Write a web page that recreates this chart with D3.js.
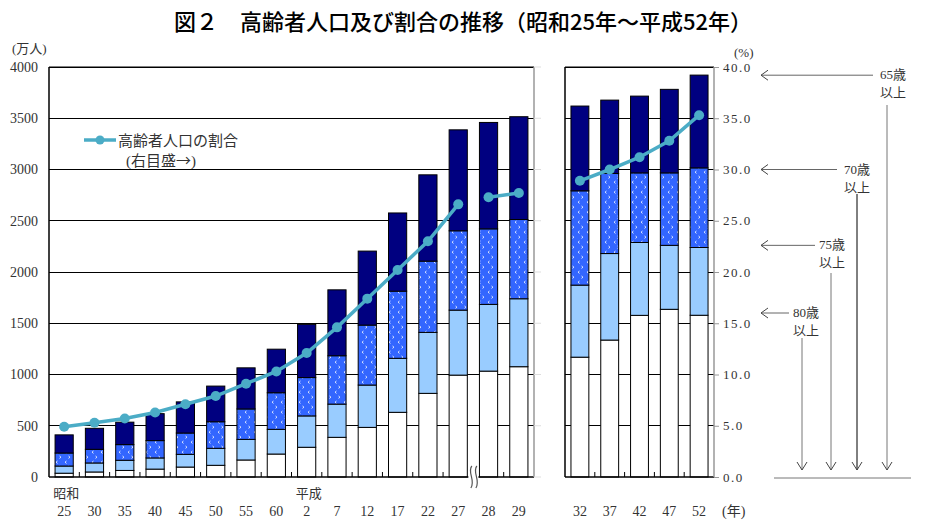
<!DOCTYPE html>
<html><head><meta charset="utf-8">
<script src="https://cdn.jsdelivr.net/npm/d3@7"></script>
<style>
html,body{margin:0;padding:0;background:#fff;}
svg{display:block;}
</style></head>
<body>
<script>
// ---- data ----
const yearsL = ["25","30","35","40","45","50","55","60","2","7","12","17","22","27","28","29"];
const age65L = [411,475,535,618,733,887,1065,1247,1489,1826,2204,2576,2948,3387,3459,3515];
const age70L = [234,270,316,355,429,539,664,822,970,1183,1482,1813,2106,2402,2421,2512];
const age75L = [107,137,163,186,221,280,367,465,596,711,897,1158,1411,1628,1684,1739];
const age80L = [37,49,64,77,97,114,166,224,290,387,484,631,816,994,1033,1076];
const ratioL = [4.9,5.3,5.7,6.3,7.1,7.9,9.1,10.3,12.1,14.6,17.4,20.2,23.0,26.6,27.3,27.7];

const yearsR = ["32","37","42","47","52"];
const age65R = [3619,3677,3716,3782,3921];
const age70R = [2792,2961,2967,2967,3016];
const age75R = [1872,2180,2288,2260,2239];
const age80R = [1169,1336,1577,1636,1578];
const ratioR = [28.9,30.0,31.2,32.8,35.3];

const ticksL = [0,500,1000,1500,2000,2500,3000,3500,4000];
const ticksR = [0,5,10,15,20,25,30,35,40];
const eraLabels = [["25","昭和"],["2","平成"]];
const ageNotes = [["65歳",39.2],["70歳",30.0],["75歳",22.6],["80歳",16.0]];

const title = "図２　高齢者人口及び割合の推移（昭和25年～平成52年）";

// ---- layout ----
const W = 928, H = 532;
const svg = d3.select("body").append("svg").attr("width",W).attr("height",H);
const serif = "'Liberation Serif','DejaVu Serif','Noto Sans CJK JP',serif";
const sans = "'Noto Sans CJK JP','Noto Sans',sans-serif";
const mixed = "'Liberation Serif','Noto Sans CJK JP',serif";

const yL = d3.scaleLinear().domain([0,4000]).range([477,67]);
const yR = d3.scaleLinear().domain([0,40]).range([477,67]);
const xL = d3.scaleBand().domain(yearsL).range([49,534]).paddingInner(0.4).paddingOuter(0.2);
const xR = d3.scaleBand().domain(yearsR).range([565,714]).paddingInner(0.4).paddingOuter(0.2);

const C = {navy:"#000080", blue:"#3366ff", light:"#99ccff", white:"#ffffff", line:"#4bacc6"};

// pattern
const defs = svg.append("defs");
const pat = defs.append("pattern").attr("id","dots").attr("patternUnits","userSpaceOnUse")
  .attr("width",9).attr("height",10);
pat.append("rect").attr("width",9).attr("height",10).attr("fill",C.blue);
pat.append("path").attr("d","M3.5,1 L2,2.2 L3.5,3.4").attr("fill","none").attr("stroke","#fff").attr("stroke-width",0.8);
pat.append("path").attr("d","M5.5,6 L7,7.2 L5.5,8.4").attr("fill","none").attr("stroke","#fff").attr("stroke-width",0.8);

// title
svg.append("text").attr("x",463).attr("y",30).attr("text-anchor","middle")
  .attr("font-family",sans).attr("font-size",22).attr("font-weight",500).attr("fill","#000").text(title);

function panel(x, years, a65, a70, a75, a80) {
  const x0 = x.range()[0], x1 = x.range()[1];
  const g = svg.append("g");
  g.selectAll("line.grid").data(ticksL.slice(1)).join("line")
    .attr("x1",x0).attr("x2",x1).attr("y1",d=>yL(d)).attr("y2",d=>yL(d))
    .attr("stroke","#000").attr("stroke-width",1).attr("shape-rendering","crispEdges");
  const rows = years.map((y,i)=>({y, segs:[
    [0,a80[i],C.white],[a80[i],a75[i],C.light],[a75[i],a70[i],"url(#dots)"],[a70[i],a65[i],C.navy]]}));
  const bg = g.selectAll("g.bar").data(rows).join("g");
  bg.selectAll("rect").data(d=>d.segs.map(s=>({y:d.y,s}))).join("rect")
    .attr("x",d=>x(d.y)).attr("width",x.bandwidth())
    .attr("y",d=>yL(d.s[1])).attr("height",d=>yL(d.s[0])-yL(d.s[1]))
    .attr("fill",d=>d.s[2]).attr("stroke","#000").attr("stroke-width",1);
  g.append("line").attr("x1",x0).attr("x2",x1).attr("y1",477).attr("y2",477).attr("stroke","#000").attr("stroke-width",1.5);
  const bounds = years.slice(1).map(y=>x(y) - x.step()*x.paddingInner()/2);
  g.selectAll("line.xt").data(bounds).join("line")
    .attr("x1",d=>d).attr("x2",d=>d).attr("y1",477).attr("y2",472).attr("stroke","#000");
  g.selectAll("text.xl").data(years).join("text")
    .attr("x",d=>x(d)+x.bandwidth()/2).attr("y",516).attr("text-anchor","middle")
    .attr("font-family",serif).attr("font-size",14).attr("fill","#333").text(d=>d);
  g.append("line").attr("x1",x0).attr("x2",x0).attr("y1",67).attr("y2",477).attr("stroke","#000").attr("stroke-width",1.5);
  g.append("line").attr("x1",x0).attr("x2",x1).attr("y1",67).attr("y2",67).attr("stroke","#000").attr("stroke-width",1);
  g.append("line").attr("x1",x1).attr("x2",x1).attr("y1",67).attr("y2",477).attr("stroke","#999").attr("stroke-width",1.5);
  return g;
}

panel(xL, yearsL, age65L, age70L, age75L, age80L);
panel(xR, yearsR, age65R, age70R, age75R, age80R);

// left y axis
const gl = svg.append("g").attr("transform","translate(49,0)")
  .call(d3.axisLeft(yL).tickValues(ticksL).tickSize(0).tickPadding(11).tickFormat(d3.format("d")));
gl.select(".domain").remove();
gl.selectAll("text").attr("font-family",serif).attr("font-size",14).attr("fill","#333");
svg.append("text").attr("x",12).attr("y",53).attr("font-family",mixed).attr("font-size",13).attr("fill","#333").text("(万人)");

// right y axis
const gr = svg.append("g").attr("transform","translate(714,0)")
  .call(d3.axisRight(yR).tickValues(ticksR).tickSize(5).tickPadding(4).tickFormat(d3.format(".1f")));
gr.select(".domain").remove();
gr.selectAll("line").attr("stroke","#999");
gr.selectAll("text").attr("font-family",serif).attr("font-size",13).attr("fill","#333").attr("letter-spacing","1.5px");
svg.append("text").attr("x",734).attr("y",57).attr("font-family",serif).attr("font-size",13).attr("fill","#333").text("(%)");
svg.append("text").attr("x",722).attr("y",516).attr("font-family",mixed).attr("font-size",14).attr("fill","#333").text("(年)");

svg.append("g").selectAll("line").data(ticksL).join("line")
  .attr("x1",534).attr("x2",541).attr("y1",d=>yL(d)).attr("y2",d=>yL(d)).attr("stroke","#ddd");

// era labels
svg.selectAll("text.era").data(eraLabels).join("text")
  .attr("x",d=>xL(d[0])+xL.bandwidth()/2-11).attr("y",498)
  .attr("font-family",sans).attr("font-size",13).attr("fill","#333").text(d=>d[1]);

// break marker between 27 and 28
const bx = (xL("27")+xL.bandwidth()+xL("28"))/2;
svg.append("rect").attr("x",bx-5).attr("y",466).attr("width",10).attr("height",24).attr("fill","#fff");
[-2.5,2.5].forEach(o=>{
  svg.append("path").attr("d",`M${bx+o+1},466 C${bx+o-4},472 ${bx+o+5},480 ${bx+o},488`)
    .attr("fill","none").attr("stroke","#555").attr("stroke-width",1.2);
});

// ratio lines
const line = d3.line().x(d=>d[0]).y(d=>d[1]);
function drawLine(x, years, vals){
  const pts = years.map((y,i)=>[x(y)+x.bandwidth()/2, yR(vals[i])]);
  svg.append("path").attr("d",line(pts)).attr("fill","none").attr("stroke",C.line).attr("stroke-width",3.5);
  svg.append("g").selectAll("circle").data(pts).join("circle")
    .attr("cx",d=>d[0]).attr("cy",d=>d[1]).attr("r",5).attr("fill",C.line);
}
drawLine(xL, yearsL.slice(0,14), ratioL.slice(0,14));
drawLine(xL, yearsL.slice(14), ratioL.slice(14));
drawLine(xR, yearsR, ratioR);

// legend
svg.append("line").attr("x1",84).attr("x2",116).attr("y1",140).attr("y2",140).attr("stroke",C.line).attr("stroke-width",3.5);
svg.append("circle").attr("cx",100).attr("cy",140).attr("r",4.5).attr("fill",C.line);
svg.append("text").attr("x",118).attr("y",146).attr("font-family",sans).attr("font-size",15).attr("fill","#333").text("高齢者人口の割合");
const lg2 = svg.append("text").attr("x",126).attr("y",166).attr("font-size",15).attr("fill","#333");
lg2.append("tspan").attr("font-family",serif).text("(");
lg2.append("tspan").attr("font-family",sans).text("右目盛→");
lg2.append("tspan").attr("font-family",serif).text(")");

// age annotations (right side)
const notes = [
  {vx:887, lx:873, tx:893, vy0:105},
  {vx:857, lx:837, tx:857, vy0:194},
  {vx:831, lx:815, tx:832, vy0:273},
  {vx:802, lx:789, tx:806, vy0:338}
];
const ga = svg.append("g");
ageNotes.forEach((n,i)=>{
  const p = notes[i], ay = yR(n[1]);
  const col = i===1 ? "#000" : "#777";
  ga.append("line").attr("x1",p.lx).attr("x2",761).attr("y1",ay).attr("y2",ay).attr("stroke","#666");
  ga.append("path").attr("d",`M768,${ay-5} L761,${ay} L768,${ay+5}`).attr("fill","none").attr("stroke","#444");
  ga.append("text").attr("x",p.tx).attr("y",ay+4).attr("text-anchor","middle")
    .attr("font-family",mixed).attr("font-size",13).attr("fill","#333").text(n[0]);
  ga.append("text").attr("x",p.tx).attr("y",ay+22).attr("text-anchor","middle")
    .attr("font-family",sans).attr("font-size",13).attr("fill","#333").text("以上");
  ga.append("line").attr("x1",p.vx).attr("x2",p.vx).attr("y1",p.vy0).attr("y2",470).attr("stroke",col);
  ga.append("path").attr("d",`M${p.vx-5},462 L${p.vx},470 L${p.vx+5},462`).attr("fill","none").attr("stroke","#444");
});
ga.append("line").attr("x1",774).attr("x2",911).attr("y1",478).attr("y2",478).attr("stroke","#777");
</script>
</body></html>
